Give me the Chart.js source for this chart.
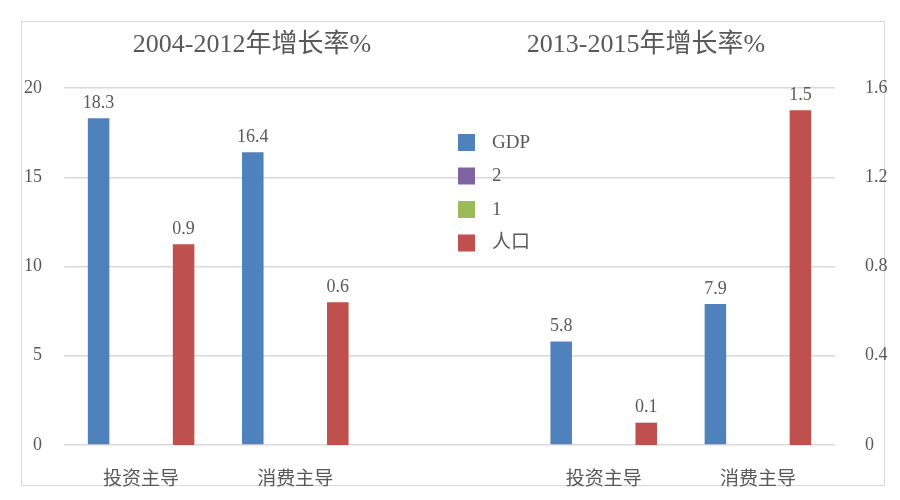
<!DOCTYPE html>
<html>
<head>
<meta charset="utf-8">
<script src="https://cdn.jsdelivr.net/npm/chart.js@4/dist/chart.umd.min.js"></script>
<style>
  html, body { margin: 0; padding: 0; background: #fff; }
  #wrap { position: relative; width: 900px; height: 500px; }
</style>
</head>
<body>
<div id="wrap"><canvas id="growth-chart" width="900" height="500"></canvas></div>
<script>
// categories (empty slot in the middle splits the two periods)
var categories = ['投资主导', '消费主导', '', '投资主导', '消费主导'];
var gdpValues = [18.3, 16.4, null, 5.8, 7.9];
var series2Values = [null, null, null, null, null];
var series1Values = [null, null, null, null, null];
var popValues = [0.9, 0.64, null, 0.1, 1.5];
var leftTicks = [0, 5, 10, 15, 20];
var rightTicks = [0, 0.4, 0.8, 1.2, 1.6];
var periodTitles = ['2004-2012年增长率%', '2013-2015年增长率%'];

var SERIF = '"Liberation Serif", "Noto Sans CJK SC", serif';
var TEXT = '#595959';

// frame, period titles, bar values and the legend in the middle
var decorPlugin = {
    id: 'decor',
    beforeDraw: function (chart) {
        var c = chart.ctx;
        c.save();
        c.strokeStyle = '#d9d9d9';
        c.lineWidth = 1;
        c.strokeRect(21.5, 21.5, 863, 464);
        c.restore();
    },
    afterDraw: function (chart) {
        var c = chart.ctx;
        c.save();
        c.fillStyle = TEXT;
        c.textAlign = 'center';
        c.textBaseline = 'middle';
        c.font = '26px ' + SERIF;
        c.fillText(periodTitles[0], 252, 45);
        c.fillText(periodTitles[1], 646, 45);

        // value labels, one decimal
        c.font = '18px ' + SERIF;
        chart.data.datasets.forEach(function (ds, di) {
            var meta = chart.getDatasetMeta(di);
            meta.data.forEach(function (bar, i) {
                var v = ds.data[i];
                if (v == null) return;
                c.fillText(v.toFixed(1), bar.x, bar.y - 15);
            });
        });

        // legend
        var x = 458, y = 142;
        c.textAlign = 'left';
        c.font = '19px ' + SERIF;
        chart.data.datasets.forEach(function (ds) {
            c.fillStyle = ds.backgroundColor;
            c.fillRect(x, y - 8, 17, 17);
            c.fillStyle = TEXT;
            c.fillText(ds.label, x + 34, y + 1);
            y += 33.5;
        });
        c.restore();
    }
};

var ctx = document.getElementById('growth-chart').getContext('2d');
var growthChart = new Chart(ctx, {
    type: 'bar',
    data: {
        labels: categories,
        datasets: [
            { label: 'GDP', data: gdpValues, backgroundColor: '#4f81bd', yAxisID: 'y' },
            { label: '2', data: series2Values, backgroundColor: '#8064a2', yAxisID: 'y' },
            { label: '1', data: series1Values, backgroundColor: '#9bbb59', yAxisID: 'y' },
            { label: '人口', data: popValues, backgroundColor: '#c0504d', yAxisID: 'y1' }
        ]
    },
    options: {
        responsive: false,
        animation: false,
        categoryPercentage: 0.735,
        barPercentage: 0.76,
        layout: { padding: { top: 88, left: 0, right: 0, bottom: 0 } },
        plugins: {
            legend: { display: false },
            tooltip: { enabled: false }
        },
        scales: {
            x: {
                grid: { display: false },
                border: { display: false },
                ticks: { color: TEXT, font: { family: SERIF, size: 19 }, padding: 16, maxRotation: 0 },
                afterFit: function (scale) { scale.height = 55; }
            },
            y: {
                position: 'left',
                min: 0,
                max: 20,
                afterBuildTicks: function (scale) {
                    scale.ticks = leftTicks.map(function (v) { return { value: v }; });
                },
                grid: { color: '#d9d9d9', lineWidth: 1.5, drawTicks: false },
                border: { display: false },
                ticks: { color: TEXT, font: { family: SERIF, size: 18 }, padding: 22 },
                afterFit: function (scale) { scale.width = 64; }
            },
            y1: {
                position: 'right',
                min: 0,
                max: 1.6,
                afterBuildTicks: function (scale) {
                    scale.ticks = rightTicks.map(function (v) { return { value: v }; });
                },
                grid: { display: false },
                border: { display: false },
                ticks: { color: TEXT, font: { family: SERIF, size: 18 }, padding: 22 },
                afterFit: function (scale) { scale.width = 65; }
            }
        }
    },
    plugins: [decorPlugin]
});
</script>
</body>
</html>
